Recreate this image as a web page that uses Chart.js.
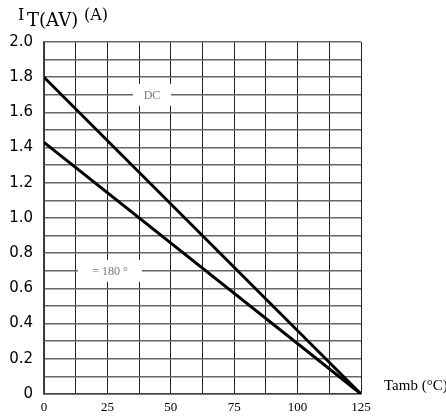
<!DOCTYPE html>
<html>
<head>
<meta charset="utf-8">
<script src="https://cdn.jsdelivr.net/npm/chart.js@4.4.0/dist/chart.umd.min.js"></script>
<style>
  html, body { margin: 0; padding: 0; background: #fff; }
  #wrap { width: 446px; height: 417px; position: relative; }
</style>
</head>
<body>
<div id="wrap"><canvas id="derating" width="446" height="417"></canvas></div>
<script>
// temperatures (degC) and average on-state current (A)
const tamb = [0, 125];
const dcCurrent = [1.8, 0];
const halfWaveCurrent = [1.43, 0];
const xTickLabels = [0, 25, 50, 75, 100, 125];
const yTickLabels = [0, 0.2, 0.4, 0.6, 0.8, 1.0, 1.2, 1.4, 1.6, 1.8, 2.0];

function toPoints(xs, ys) {
  return xs.map((x, i) => ({ x: x, y: ys[i] }));
}

// boxed labels sitting on grid lines ("DC", "= 180 °")
const curveLabels = [
  { text: 'DC', x: 42.6, y: 1.7, w: 38 },
  { text: '= 180 °', x: 26, y: 0.7, w: 64 }
];

const extraText = {
  id: 'extraText',
  beforeDatasetsDraw(chart) {
    const ctx = chart.ctx;
    const xs = chart.scales.x, ys = chart.scales.y;
    ctx.save();
    curveLabels.forEach(l => {
      const px = xs.getPixelForValue(l.x);
      const py = ys.getPixelForValue(l.y);
      ctx.fillStyle = '#fff';
      ctx.fillRect(px - l.w / 2, py - 11, l.w, 22);
      ctx.fillStyle = '#777';
      ctx.font = '12px "Liberation Serif"';
      ctx.textAlign = 'center';
      ctx.textBaseline = 'middle';
      ctx.fillText(l.text, px, py + 1);
    });
    ctx.restore();
  },
  afterDraw(chart) {
    const ctx = chart.ctx;
    ctx.save();
    ctx.fillStyle = '#000';
    ctx.textBaseline = 'alphabetic';
    ctx.textAlign = 'left';
    ctx.font = '16px "DejaVu Serif"';
    ctx.fillText('I', 18, 20);
    ctx.font = '18px "DejaVu Serif"';
    ctx.fillText('T(AV)', 27, 26);
    ctx.font = '16px "DejaVu Serif"';
    ctx.fillText('(A)', 84, 20);
    ctx.font = '15px "Liberation Serif"';
    ctx.fillText('Tamb (°C)', 384, 390);
    ctx.restore();
  }
};

const ctx = document.getElementById('derating').getContext('2d');
const chart = new Chart(ctx, {
  type: 'scatter',
  data: {
    datasets: [
      {
        label: 'DC',
        data: toPoints(tamb, dcCurrent),
        showLine: true,
        borderColor: '#000',
        borderWidth: 3,
        pointRadius: 0
      },
      {
        label: '180',
        data: toPoints(tamb, halfWaveCurrent),
        showLine: true,
        borderColor: '#000',
        borderWidth: 3,
        pointRadius: 0
      }
    ]
  },
  options: {
    responsive: false,
    animation: false,
    layout: { padding: { left: 0, right: 85, top: 42, bottom: 0 } },
    plugins: { legend: { display: false }, tooltip: { enabled: false } },
    scales: {
      x: {
        type: 'linear',
        min: 0,
        max: 125,
        afterFit(scale) { scale.height = 23; },
        afterBuildTicks(scale) {
          const t = [];
          for (let i = 0; i <= 10; i++) t.push({ value: i * 12.5 });
          scale.ticks = t;
        },
        ticks: {
          autoSkip: false,
          maxRotation: 0,
          color: '#000',
          padding: 6,
          font: { family: '"Liberation Sans Narrow"', size: 13 },
          callback: v => xTickLabels.includes(v) ? String(v) : ''
        },
        grid: { color: '#222', lineWidth: 1, drawTicks: false },
        border: { color: '#444', width: 1.5 }
      },
      y: {
        min: 0,
        max: 2,
        afterFit(scale) { scale.width = 44; },
        afterBuildTicks(scale) {
          const t = [];
          for (let i = 0; i <= 20; i++) t.push({ value: i / 10 });
          scale.ticks = t;
        },
        ticks: {
          autoSkip: false,
          color: '#000',
          padding: 11,
          font: { family: '"DejaVu Sans"', size: 15 },
          callback: v => {
            const hit = yTickLabels.find(y => Math.abs(y - v) < 1e-6);
            if (hit === undefined) return '';
            return hit === 0 ? '0' : hit.toFixed(1);
          }
        },
        grid: { color: '#666', lineWidth: 1.5, drawTicks: false },
        border: { color: '#444', width: 1.5 }
      }
    }
  },
  plugins: [extraText]
});
</script>
</body>
</html>
